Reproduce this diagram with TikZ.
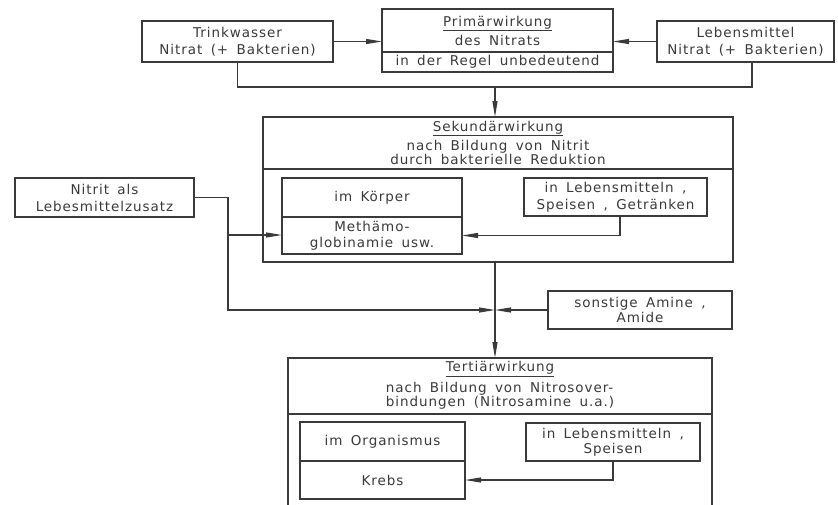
\documentclass[tikz,border=0pt]{standalone}
\usepackage{fontspec}
\setmainfont{DejaVu Sans}[LetterSpace=7, WordSpace=1.6]
\usetikzlibrary{positioning, fit, arrows.meta}
\definecolor{ink}{HTML}{3A3A3A}

\begin{document}
\begin{tikzpicture}[
		x = 1pt,
		y = -1pt,
		every node/.style = {
			font = \fontsize{13.5}{17}\selectfont,
			text = ink,
		},
		box/.style = {
			draw = ink,
			rectangle,
			line width = 1.2pt,
			inner sep = 0pt,
			outer sep = 0pt,
			align = center,
		},
		frame/.style = {
			draw = ink,
			rectangle,
			line width = 2.6pt,
			inner sep = 0pt,
			outer sep = 0pt,
		},
		wire/.style = {
			draw = ink,
			line width = 1.1pt,
		},
		flow/.style = {
			wire,
			-{Triangle[length = 16pt, width = 5pt]},
		}
	]
	\useasboundingbox (0, 0) rectangle (838, 504);

	% Primaerwirkung
	\node [box, minimum width = 191, minimum height = 41] (trink) at (237.5, 41.5) {Trinkwasser\\Nitrat (+ Bakterien)};
	\node [box, minimum width = 231, minimum height = 43] (primHead) at (497.5, 30.5) {\underline{Primärwirkung}\\[2pt]des Nitrats};
	\node [box, minimum width = 231, minimum height = 20, below = 0 of primHead] (primFoot) {in der Regel unbedeutend};
	\node [frame, fit = (primHead)(primFoot)] (prim) {};
	\node [box, minimum width = 177, minimum height = 41] (leben) at (745.5, 41.5) {Lebensmittel\\Nitrat (+ Bakterien)};

	% Sekundaerwirkung
	\node [box, minimum width = 470, minimum height = 52, font = \fontsize{13.5}{14.5}\selectfont] (sekHead) at (498, 143) {\underline{Sekundärwirkung}\\[3pt]nach Bildung von Nitrit\\durch bakterielle Reduktion};
	\node [box, minimum width = 470, minimum height = 93, below = 0 of sekHead] (sekBody) {};
	\node [frame, fit = (sekHead)(sekBody)] (sek) {};
	\node [box, minimum width = 180, minimum height = 39] (koerper) at (372, 197.5) {im Körper};
	\node [box, minimum width = 180, minimum height = 37, font = \fontsize{13.5}{16}\selectfont, below = 0 of koerper] (methaemo) {Methämo-\\globinamie usw.};
	\node [box, minimum width = 183, minimum height = 38] (lebSek) at (615.5, 197) {in Lebensmitteln ,\\Speisen , Getränken};
	\node [box, minimum width = 179, minimum height = 39] (nitrit) at (104.5, 197.5) {Nitrit als\\Lebesmittelzusatz};
	\node [box, minimum width = 184, minimum height = 38, font = \fontsize{13.5}{14.5}\selectfont] (sonstige) at (640, 310) {sonstige Amine ,\\Amide};

	% Tertiaerwirkung
	\node [box, minimum width = 424, minimum height = 56, font = \fontsize{13.5}{12.5}\selectfont] (terHead) at (500, 386) {\underline{Tertiärwirkung}\\[5pt]\begin{tabular}{@{}l@{}}nach Bildung von Nitrosover-\\bindungen (Nitrosamine u.a.)\end{tabular}};
	\node [box, minimum width = 424, minimum height = 110, below = 0 of terHead] (terBody) {};
	\node [frame, fit = (terHead)(terBody)] (ter) {};
	\node [box, minimum width = 165, minimum height = 39] (organismus) at (382.5, 441.5) {im Organismus};
	\node [box, minimum width = 165, minimum height = 38, below = 0 of organismus] (krebs) {Krebs};
	\node [box, minimum width = 174, minimum height = 38, font = \fontsize{13.5}{15}\selectfont] (lebTer) at (613, 442) {in Lebensmitteln ,\\Speisen};

	\coordinate (merge) at (495, 87);
	\coordinate (nitritBend) at (228, 235);
	\coordinate (cross) at (495, 310);

	\draw [flow] (trink.east) -- (trink.east -| prim.west);
	\draw [flow] (leben.west) -- (leben.west -| prim.east);
	\draw [wire] (trink.south) |- (merge);
	\draw [wire] ([xshift = 6.5]leben.south) |- (merge);
	\draw [flow] (merge) -- (merge |- sek.north);

	\draw [wire] (nitrit.east) -| (nitritBend);
	\draw [flow] (nitritBend) -- (nitritBend -| methaemo.west);
	\draw [flow] (nitritBend) |- (cross);
	\draw [flow] (sonstige.west) -- (cross);
	\draw [flow] (cross |- sek.south) -- (cross |- ter.north);
	\draw [flow] ([xshift = 4.5]lebSek.south) |- (methaemo.east);
	\draw [flow] (lebTer.south) |- (krebs.east);
\end{tikzpicture}
\end{document}
